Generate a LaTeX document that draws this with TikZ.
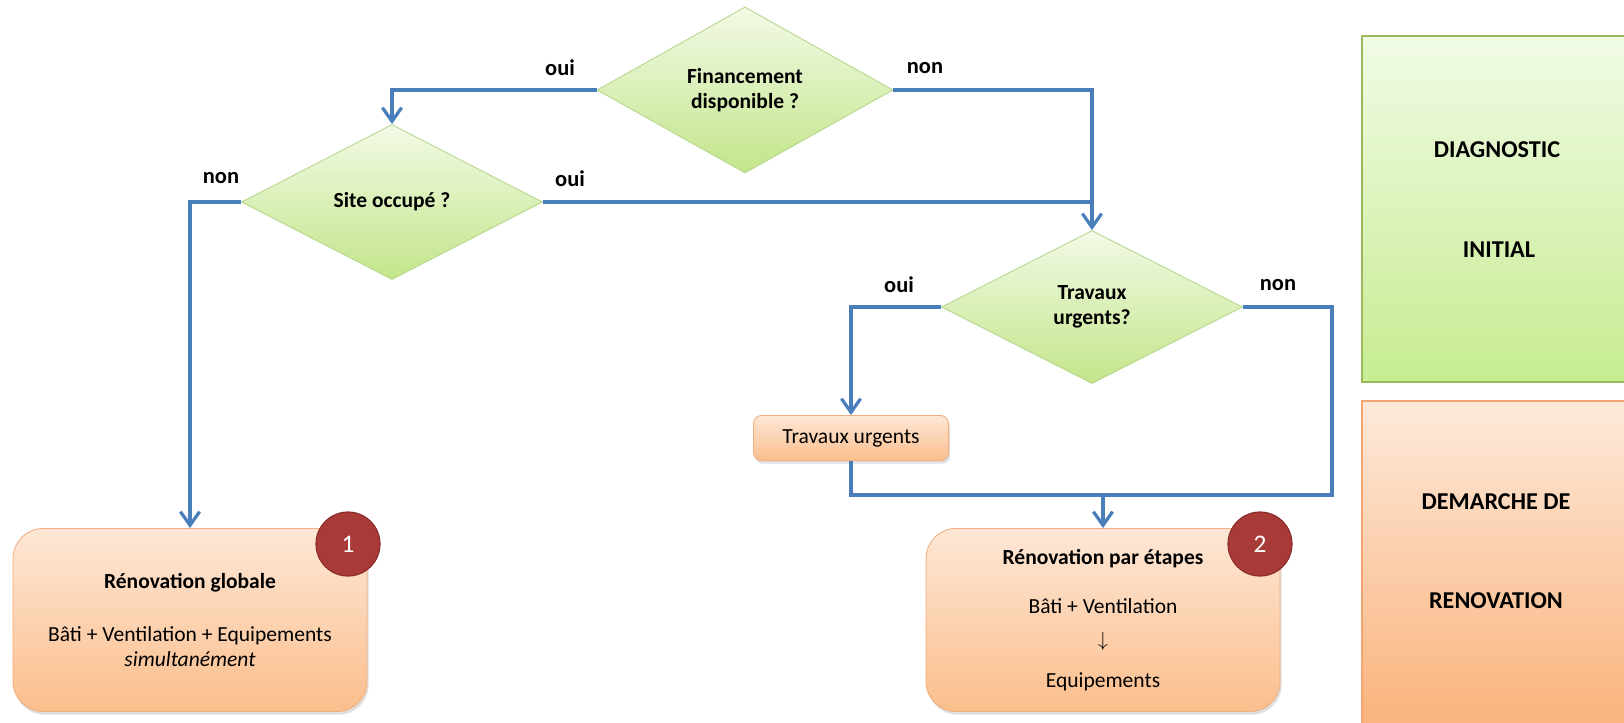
\documentclass[tikz,border=0pt]{standalone}
\usepackage{fontspec}
\setmainfont{Carlito}
\usetikzlibrary{shapes.geometric,arrows.meta,shadows}
\definecolor{linkblue}{HTML}{4A7EBB}
\definecolor{decisiontop}{HTML}{F2FAE6}
\definecolor{decisionbot}{HTML}{C3E58A}
\definecolor{decisionedge}{HTML}{B3D68A}
\definecolor{resulttop}{HTML}{FDE7D6}
\definecolor{resultbot}{HTML}{FBBE8C}
\definecolor{resultedge}{HTML}{F1AE7E}
\definecolor{badgered}{HTML}{A83A37}
\definecolor{badgeedge}{HTML}{8A2C29}
\definecolor{diagtop}{HTML}{F1FBE5}
\definecolor{diagbot}{HTML}{C7EC91}
\definecolor{diagedge}{HTML}{9BB95C}
\definecolor{renotop}{HTML}{FDE9DA}
\definecolor{renobot}{HTML}{FAB27A}
\definecolor{renoedge}{HTML}{F0A572}
\begin{document}
\begin{tikzpicture}[x=0.025cm,y=-0.025cm,
  font=\fontsize{15.3}{17.8}\selectfont,
  decision/.style={diamond,draw=decisionedge,line width=0.6pt,top color=decisiontop,bottom color=decisionbot,
    inner sep=0pt,aspect=2,align=center,font=\fontsize{15.3}{17.8}\selectfont\bfseries},
  result/.style={rectangle,rounded corners=0.75cm,draw=resultedge,line width=0.6pt,top color=resulttop,bottom color=resultbot,
    minimum width=8.85cm,minimum height=4.575cm,align=center,
    drop shadow={opacity=0.25,shadow xshift=0.04cm,shadow yshift=-0.08cm}},
  badge/.style={circle,draw=badgeedge,line width=0.8pt,fill=badgered,minimum size=1.6cm,inner sep=0pt,
    text=white,font=\fontsize{18}{20}\selectfont},
  panel/.style={rectangle,line width=0.8pt,minimum width=6.75cm,inner sep=0pt},
  paneltext/.style={font=\fontsize{17.2}{20}\selectfont\bfseries},
  answer/.style={font=\fontsize{16}{18}\selectfont\bfseries},
  line/.style={draw=linkblue,line width=2.3pt},
  link/.style={line,-{Straight Barb[length=3.4mm,width=4.8mm]}}]
  \useasboundingbox (0,0) rectangle (1624,723);
  \clip (0,0) rectangle (1624,723);

  \node[decision,minimum width=7.4cm,minimum height=4.15cm] (fin) at (745,90) {Financement\\disponible ?};
  \node[decision,minimum width=7.525cm,minimum height=3.875cm] (site) at (392,202) {Site occup\'e ?};
  \node[decision,minimum width=7.525cm,minimum height=3.825cm] (trav) at (1092,307) {Travaux\\urgents?};

  \node[result,rounded corners=0.2cm,minimum width=4.875cm,minimum height=1.125cm] (urg) at (851,438) {Travaux urgents};
  \node[result] (glob) at (190,620) {\textbf{R\'enovation globale}\\[0.7cm]
    B\^ati + Ventilation + Equipements\\ \textit{simultan\'ement}};
  \node[result] (etap) at (1103,620) {\textbf{R\'enovation par \'etapes}\\[0.6cm]
    B\^ati + Ventilation\\[0.2cm] $\downarrow$\\[0.4cm] Equipements};

  \node[badge] (one) at (348,544) {1};
  \node[badge] (two) at (1260,544) {2};

  \node[panel,draw=diagedge,top color=diagtop,bottom color=diagbot,minimum height=8.65cm] (diag) at (1497,209) {};
  \node[panel,draw=renoedge,top color=renotop,bottom color=renobot,minimum height=8.225cm] (reno) at (1497,565.5) {};
  \node[paneltext] (diag1) at (1497,150) {DIAGNOSTIC};
  \node[paneltext] (diag2) at (1499,250) {INITIAL};
  \node[paneltext] (reno1) at (1496,502) {DEMARCHE DE};
  \node[paneltext] (reno2) at (1496,601) {RENOVATION};

  \coordinate (turn) at (1332,495);
  \coordinate (merge) at (1103,495);
  \draw[link] (fin.west) -| (site.north);
  \draw[link] (fin.east) -| (trav.north);
  \draw[line] (site.east) -- (site.east -| trav.north);
  \draw[link] (site.west) -| (glob.north);
  \draw[link] (trav.west) -| (urg.north);
  \draw[line] (trav.east) -| (turn) -- (merge);
  \draw[line] (urg.south) |- (merge);
  \draw[link] (merge) -- (etap.north);

  \node[answer] (finoui) at (560,68) {oui};
  \node[answer] (finnon) at (925,68) {non};
  \node[answer] (sitenon) at (221,178) {non};
  \node[answer] (siteoui) at (570,179) {oui};
  \node[answer] (travoui) at (899,285) {oui};
  \node[answer] (travnon) at (1278,285) {non};
\end{tikzpicture}
\end{document}
